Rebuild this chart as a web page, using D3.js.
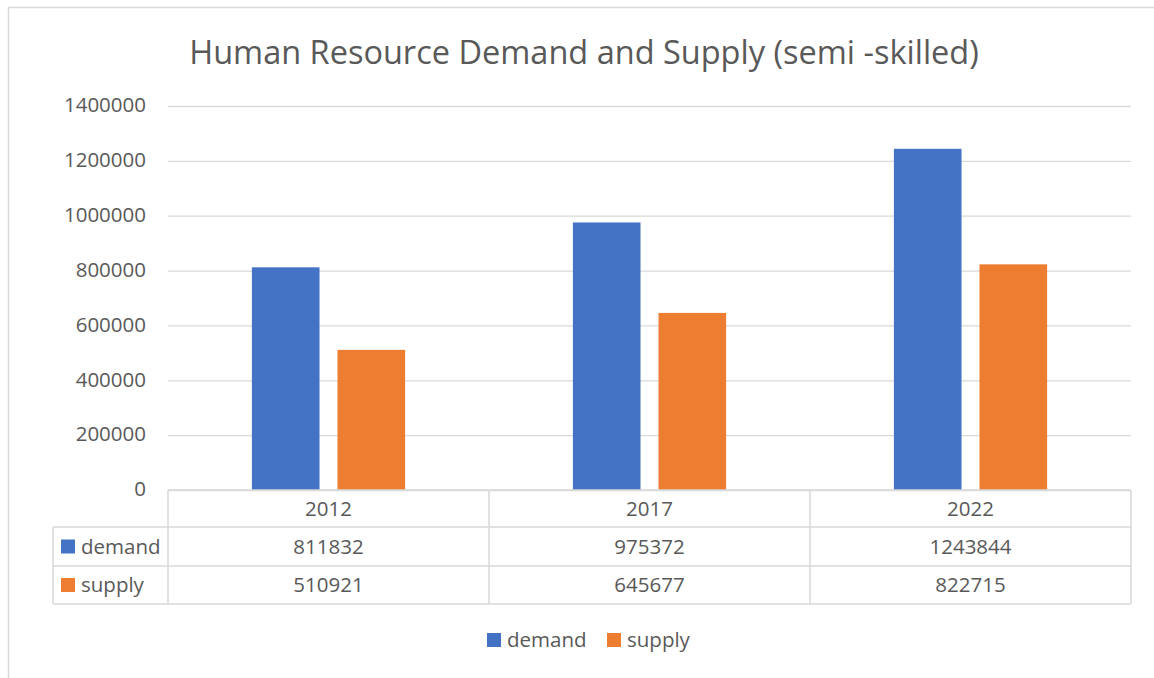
<!DOCTYPE html>
<html>
<head>
<meta charset="utf-8">
<script src="https://cdn.jsdelivr.net/npm/d3@7"></script>
<style>
body { margin: 0; background: #fff; }
text { font-family: "Open Sans", "Liberation Sans", sans-serif; fill: #595959; }
</style>
</head>
<body>
<script>
// Data
var years = ["2012", "2017", "2022"]
var seriesNames = ["demand", "supply"]
var demand = [811832, 975372, 1243844]
var supply = [510921, 645677, 822715]
var yTicks = [0, 200000, 400000, 600000, 800000, 1000000, 1200000, 1400000]
var colors = ["#4472c4", "#ed7d31"]

var w = 1154, h = 678
var plotL = 168, plotR = 1131, plotT = 106, plotB = 490
var rowH = [37, 39, 38]
var labelX = 53
var fs = '20.5px'

var svg = d3.select('body').append('svg')
	.attr('width', w)
	.attr('height', h)

// chart frame
svg.append('rect')
	.attr('x', 8.5).attr('y', 7.5)
	.attr('width', 1160).attr('height', 700)
	.attr('fill', 'none')
	.attr('stroke', '#d9d9d9')
	.attr('stroke-width', 1.5)

// title
svg.append('text')
	.attr('x', 584).attr('y', 64)
	.attr('text-anchor', 'middle')
	.style('font-size', '32.5px')
	.text('Human Resource Demand and Supply (semi -skilled)')

// Scales
var xScale = d3.scaleBand()
	.domain(years)
	.range([plotL, plotR])

var xInner = d3.scaleBand()
	.domain(seriesNames)
	.range([0, xScale.bandwidth()])
	.paddingInner(0.21)
	.paddingOuter(0.98)

var yScale = d3.scaleLinear()
	.domain([0, 1400000])
	.range([plotB, plotT])

// gridlines + y axis labels
var gy = svg.append('g')
	.attr('transform', 'translate(' + plotR + ',0)')
	.call(d3.axisLeft(yScale)
		.tickValues(yTicks)
		.tickSize(plotR - plotL)
		.tickFormat(function (d) { return d })
		.tickPadding(22))
gy.select('.domain').remove()
gy.selectAll('.tick line').attr('stroke', '#d9d9d9').attr('stroke-width', 1.3)
gy.selectAll('.tick text')
	.style('font-size', fs)
	.attr('fill', '#595959')
	.attr('dy', '0.28em')

// bars
var groups = svg.selectAll('g.year')
	.data(years)
	.enter()
	.append('g')
	.attr('class', 'year')
	.attr('transform', function (d) { return 'translate(' + xScale(d) + ',0)' })

groups.selectAll('rect')
	.data(function (d, i) { return [demand[i], supply[i]] })
	.enter()
	.append('rect')
	.attr('x', function (d, j) { return xInner(seriesNames[j]) })
	.attr('y', function (d) { return yScale(d) })
	.attr('width', xInner.bandwidth())
	.attr('height', function (d) { return plotB - yScale(d) })
	.attr('fill', function (d, j) { return colors[j] })

// data table
var tbl = svg.append('g').attr('class', 'table')
var gridColor = '#d9d9d9'
var y0 = plotB, y1 = plotB + rowH[0], y2 = y1 + rowH[1], y3 = y2 + rowH[2]

function hline(x1, x2, y) {
	tbl.append('line').attr('x1', x1).attr('x2', x2).attr('y1', y).attr('y2', y)
		.attr('stroke', gridColor).attr('stroke-width', 1.5)
}
function vline(x, ya, yb) {
	tbl.append('line').attr('x1', x).attr('x2', x).attr('y1', ya).attr('y2', yb)
		.attr('stroke', gridColor).attr('stroke-width', 1.5)
}
hline(plotL, plotR, y0)
hline(labelX, plotR, y1)
hline(labelX, plotR, y2)
hline(labelX, plotR, y3)
vline(labelX, y1, y3)
years.forEach(function (yr) { vline(xScale(yr), y0, y3) })
vline(plotR, y0, y3)

tbl.selectAll('text.yr')
	.data(years)
	.enter()
	.append('text')
	.attr('class', 'yr')
	.attr('x', function (d) { return xScale(d) + xScale.bandwidth() / 2 })
	.attr('y', y0 + rowH[0] / 2 + 7)
	.attr('text-anchor', 'middle')
	.style('font-size', fs)
	.text(function (d) { return d })

var rows = [demand, supply]
rows.forEach(function (vals, r) {
	var cy = (r == 0 ? y1 + rowH[1] / 2 : y2 + rowH[2] / 2)
	tbl.append('rect')
		.attr('x', 61).attr('y', cy - 7)
		.attr('width', 14).attr('height', 14)
		.attr('fill', colors[r])
	tbl.append('text')
		.attr('x', 81).attr('y', cy + 7)
		.style('font-size', fs)
		.text(seriesNames[r])
	tbl.selectAll('text.v' + r)
		.data(vals)
		.enter()
		.append('text')
		.attr('class', 'v' + r)
		.attr('x', function (d, i) { return xScale(years[i]) + xScale.bandwidth() / 2 })
		.attr('y', cy + 7)
		.attr('text-anchor', 'middle')
		.style('font-size', fs)
		.text(function (d) { return d })
})

// legend
var legend = svg.append('g')
var legX = [487, 607]
seriesNames.forEach(function (s, i) {
	legend.append('rect')
		.attr('x', legX[i]).attr('y', 633)
		.attr('width', 14).attr('height', 14)
		.attr('fill', colors[i])
	legend.append('text')
		.attr('x', legX[i] + 20).attr('y', 647)
		.style('font-size', fs)
		.text(s)
})
</script>
</body>
</html>
